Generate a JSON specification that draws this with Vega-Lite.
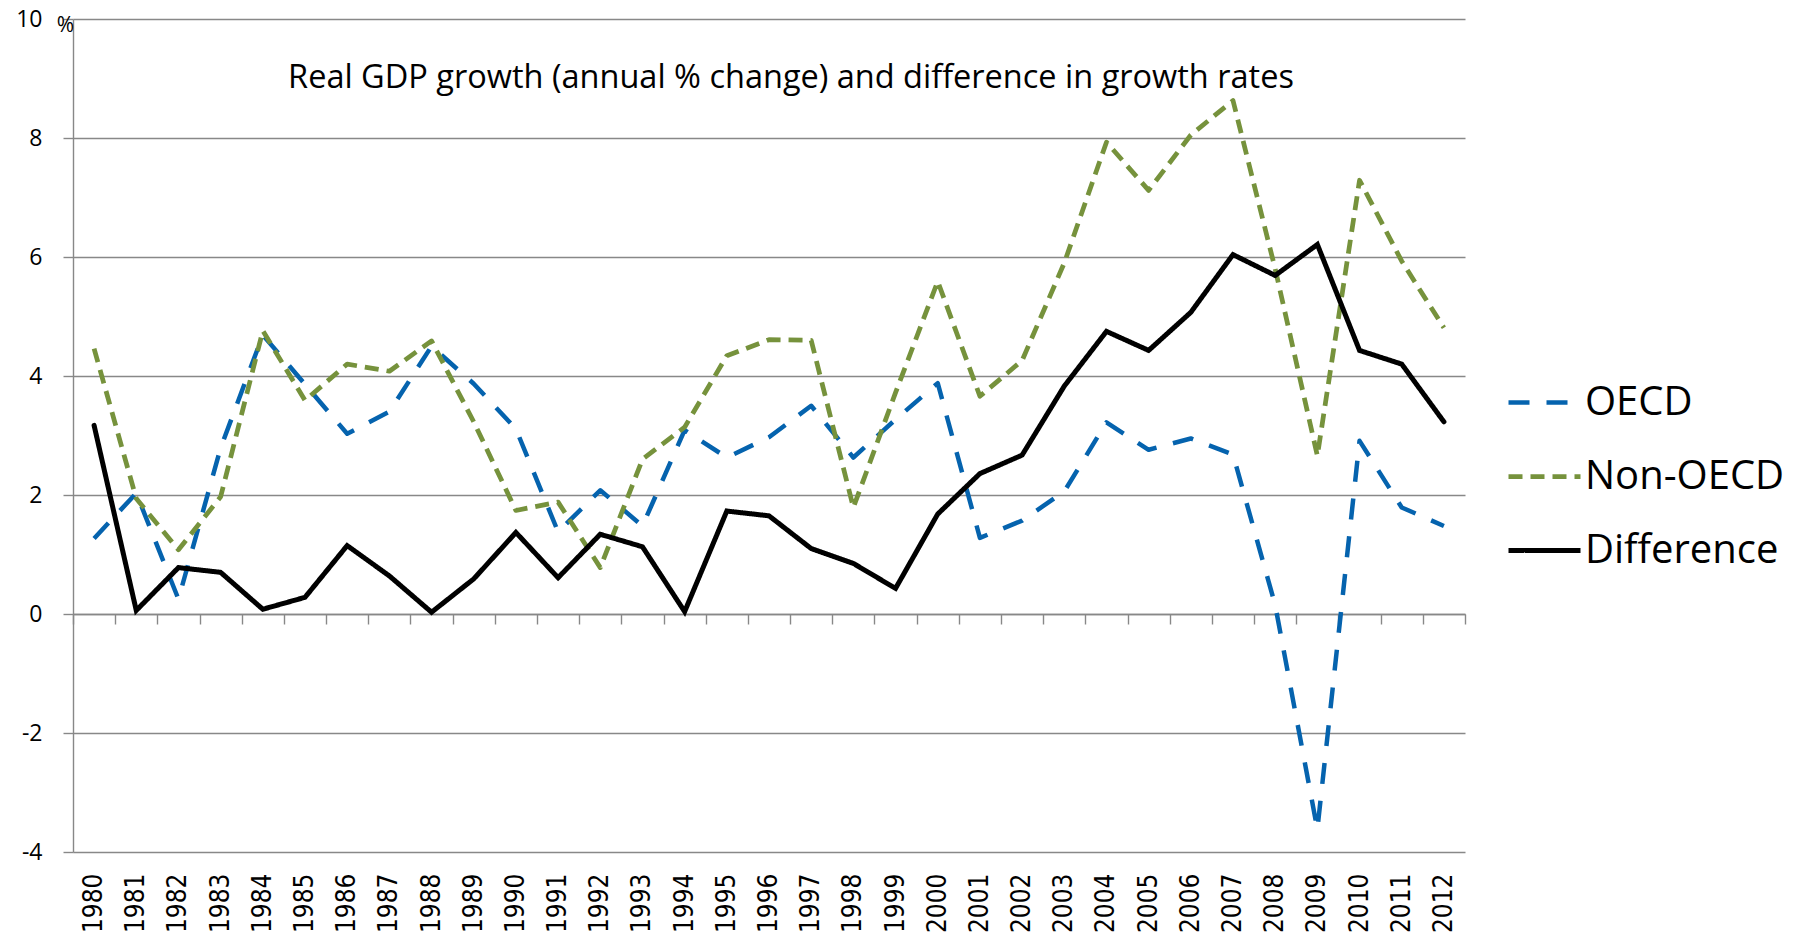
{
  "$schema": "https://vega.github.io/schema/vega-lite/v6.json",
  "width": 1392,
  "height": 833,
  "autosize": {"type": "none"},
  "padding": {"left": 73, "top": 19, "right": 343, "bottom": 89},
  "title": {
    "text": "Real GDP growth (annual % change) and difference in growth rates",
    "font": "Open Sans", "fontSize": 32.5, "fontWeight": "normal", "color": "#000000",
    "anchor": "middle", "frame": "group", "baseline": "alphabetic", "offset": 0, "dx": 22, "dy": 112
  },
  "data": {"values": [
    {"year": "1980", "series": "OECD", "value": 1.27}, {"year": "1980", "series": "Non-OECD", "value": 4.46}, {"year": "1980", "series": "Difference", "value": 3.17},
    {"year": "1981", "series": "OECD", "value": 2.03}, {"year": "1981", "series": "Non-OECD", "value": 1.94}, {"year": "1981", "series": "Difference", "value": 0.06},
    {"year": "1982", "series": "OECD", "value": 0.25}, {"year": "1982", "series": "Non-OECD", "value": 1.08}, {"year": "1982", "series": "Difference", "value": 0.78},
    {"year": "1983", "series": "OECD", "value": 2.79}, {"year": "1983", "series": "Non-OECD", "value": 1.97}, {"year": "1983", "series": "Difference", "value": 0.70},
    {"year": "1984", "series": "OECD", "value": 4.69}, {"year": "1984", "series": "Non-OECD", "value": 4.76}, {"year": "1984", "series": "Difference", "value": 0.08},
    {"year": "1985", "series": "OECD", "value": 3.86}, {"year": "1985", "series": "Non-OECD", "value": 3.59}, {"year": "1985", "series": "Difference", "value": 0.28},
    {"year": "1986", "series": "OECD", "value": 3.03}, {"year": "1986", "series": "Non-OECD", "value": 4.20}, {"year": "1986", "series": "Difference", "value": 1.15},
    {"year": "1987", "series": "OECD", "value": 3.40}, {"year": "1987", "series": "Non-OECD", "value": 4.08}, {"year": "1987", "series": "Difference", "value": 0.64},
    {"year": "1988", "series": "OECD", "value": 4.50}, {"year": "1988", "series": "Non-OECD", "value": 4.59}, {"year": "1988", "series": "Difference", "value": 0.03},
    {"year": "1989", "series": "OECD", "value": 3.87}, {"year": "1989", "series": "Non-OECD", "value": 3.23}, {"year": "1989", "series": "Difference", "value": 0.59},
    {"year": "1990", "series": "OECD", "value": 3.11}, {"year": "1990", "series": "Non-OECD", "value": 1.74}, {"year": "1990", "series": "Difference", "value": 1.37},
    {"year": "1991", "series": "OECD", "value": 1.38}, {"year": "1991", "series": "Non-OECD", "value": 1.88}, {"year": "1991", "series": "Difference", "value": 0.61},
    {"year": "1992", "series": "OECD", "value": 2.08}, {"year": "1992", "series": "Non-OECD", "value": 0.78}, {"year": "1992", "series": "Difference", "value": 1.34},
    {"year": "1993", "series": "OECD", "value": 1.48}, {"year": "1993", "series": "Non-OECD", "value": 2.60}, {"year": "1993", "series": "Difference", "value": 1.13},
    {"year": "1994", "series": "OECD", "value": 3.09}, {"year": "1994", "series": "Non-OECD", "value": 3.14}, {"year": "1994", "series": "Difference", "value": 0.04},
    {"year": "1995", "series": "OECD", "value": 2.63}, {"year": "1995", "series": "Non-OECD", "value": 4.34}, {"year": "1995", "series": "Difference", "value": 1.73},
    {"year": "1996", "series": "OECD", "value": 2.97}, {"year": "1996", "series": "Non-OECD", "value": 4.61}, {"year": "1996", "series": "Difference", "value": 1.65},
    {"year": "1997", "series": "OECD", "value": 3.50}, {"year": "1997", "series": "Non-OECD", "value": 4.60}, {"year": "1997", "series": "Difference", "value": 1.10},
    {"year": "1998", "series": "OECD", "value": 2.63}, {"year": "1998", "series": "Non-OECD", "value": 1.79}, {"year": "1998", "series": "Difference", "value": 0.85},
    {"year": "1999", "series": "OECD", "value": 3.27}, {"year": "1999", "series": "Non-OECD", "value": 3.72}, {"year": "1999", "series": "Difference", "value": 0.43},
    {"year": "2000", "series": "OECD", "value": 3.88}, {"year": "2000", "series": "Non-OECD", "value": 5.59}, {"year": "2000", "series": "Difference", "value": 1.68},
    {"year": "2001", "series": "OECD", "value": 1.28}, {"year": "2001", "series": "Non-OECD", "value": 3.66}, {"year": "2001", "series": "Difference", "value": 2.36},
    {"year": "2002", "series": "OECD", "value": 1.57}, {"year": "2002", "series": "Non-OECD", "value": 4.26}, {"year": "2002", "series": "Difference", "value": 2.67},
    {"year": "2003", "series": "OECD", "value": 2.06}, {"year": "2003", "series": "Non-OECD", "value": 5.90}, {"year": "2003", "series": "Difference", "value": 3.83},
    {"year": "2004", "series": "OECD", "value": 3.22}, {"year": "2004", "series": "Non-OECD", "value": 7.93}, {"year": "2004", "series": "Difference", "value": 4.75},
    {"year": "2005", "series": "OECD", "value": 2.76}, {"year": "2005", "series": "Non-OECD", "value": 7.12}, {"year": "2005", "series": "Difference", "value": 4.43},
    {"year": "2006", "series": "OECD", "value": 2.95}, {"year": "2006", "series": "Non-OECD", "value": 8.05}, {"year": "2006", "series": "Difference", "value": 5.07},
    {"year": "2007", "series": "OECD", "value": 2.68}, {"year": "2007", "series": "Non-OECD", "value": 8.63}, {"year": "2007", "series": "Difference", "value": 6.04},
    {"year": "2008", "series": "OECD", "value": 0.15}, {"year": "2008", "series": "Non-OECD", "value": 5.80}, {"year": "2008", "series": "Difference", "value": 5.69},
    {"year": "2009", "series": "OECD", "value": -3.62}, {"year": "2009", "series": "Non-OECD", "value": 2.66}, {"year": "2009", "series": "Difference", "value": 6.21},
    {"year": "2010", "series": "OECD", "value": 2.91}, {"year": "2010", "series": "Non-OECD", "value": 7.29}, {"year": "2010", "series": "Difference", "value": 4.43},
    {"year": "2011", "series": "OECD", "value": 1.79}, {"year": "2011", "series": "Non-OECD", "value": 5.93}, {"year": "2011", "series": "Difference", "value": 4.20},
    {"year": "2012", "series": "OECD", "value": 1.48}, {"year": "2012", "series": "Non-OECD", "value": 4.81}, {"year": "2012", "series": "Difference", "value": 3.23}
  ]},
  "encoding": {
    "y": {
      "field": "value", "type": "quantitative",
      "scale": {"domain": [-4, 10], "nice": false, "zero": false},
      "axis": {
        "values": [-4, -2, 0, 2, 4, 6, 8, 10],
        "labelExpr": "'' + datum.value",
        "grid": true, "gridColor": "#888888", "gridWidth": 1.4,
        "domain": true, "domainColor": "#888888", "domainWidth": 1.4,
        "ticks": true, "tickColor": "#888888", "tickWidth": 1.4, "tickSize": 10,
        "labelFont": "Open Sans", "labelFontSize": 23, "labelColor": "#000000", "labelPadding": 21,
        "title": "%", "titleAngle": 0, "titleX": -8, "titleY": 12, "titleAlign": "center", "titleBaseline": "alphabetic",
        "titleFont": "Open Sans", "titleFontSize": 21, "titleFontWeight": "normal", "titleColor": "#000000"
      }
    },
    "color": {
      "field": "series", "type": "nominal",
      "scale": {"domain": ["OECD", "Non-OECD", "Difference"], "range": ["#0563AE", "#76923C", "#000000"]},
      "legend": {
        "orient": "none", "legendX": 1433, "legendY": 345, "title": null, "padding": 0,
        "labelFont": "Open Sans", "labelFontSize": 40, "labelColor": "#000000", "labelLimit": 500,
        "symbolType": "stroke", "symbolSize": 5184, "labelOffset": 2, "rowPadding": 15
      }
    },
    "strokeDash": {
      "field": "series", "type": "nominal",
      "scale": {"domain": ["OECD", "Non-OECD", "Difference"], "range": [[21, 17], [14, 8], [1, 0]]}
    },
    "strokeWidth": {
      "field": "series", "type": "nominal",
      "scale": {"domain": ["OECD", "Non-OECD", "Difference"], "range": [4.5, 5, 6]}
    }
  },
  "layer": [
    {
      "transform": [{"filter": "datum.series !== 'Difference'"}],
      "mark": {"type": "line", "strokeCap": "butt", "strokeJoin": "round"},
      "encoding": {
        "x": {
          "field": "year", "type": "ordinal", "bandPosition": 0.5,
          "scale": {"type": "band", "paddingInner": 0, "paddingOuter": 0},
          "axis": {
            "orient": "bottom", "title": null, "labelAngle": -90,
            "labelFont": "DejaVu Sans Condensed, DejaVu Sans", "labelFontSize": 26, "labelColor": "#000000",
            "labelPadding": 21, "ticks": false, "tickSize": 0, "domain": false, "grid": false, "labelOverlap": false
          }
        }
      }
    },
    {
      "transform": [{"filter": "datum.series === 'Difference'"}],
      "mark": {"type": "line", "strokeCap": "round", "strokeJoin": "miter"},
      "encoding": {
        "x": {
          "field": "year", "type": "ordinal", "bandPosition": 0.5,
          "scale": {"type": "band", "paddingInner": 0, "paddingOuter": 0},
          "axis": {
            "orient": "bottom", "offset": -238, "title": null, "labels": false,
            "ticks": true, "tickBand": "extent", "tickSize": 10, "tickColor": "#888888", "tickWidth": 1.4,
            "domain": true, "domainColor": "#888888", "domainWidth": 1.4, "grid": false
          }
        }
      }
    }
  ],
  "resolve": {"axis": {"x": "independent"}},
  "config": {"view": {"stroke": null}}
}
